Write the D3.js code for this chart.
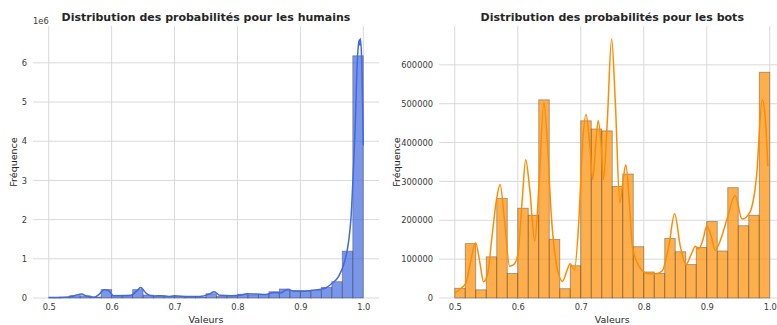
<!DOCTYPE html>
<html>
<head>
<meta charset="utf-8">
<script src="https://cdn.jsdelivr.net/npm/d3@7"></script>
<style>
  html, body { margin: 0; padding: 0; background: #fff; }
  svg { display: block; font-family: "DejaVu Sans", sans-serif; }
</style>
</head>
<body>
<svg id="chart" width="777" height="325"></svg>
<script>
// ---------- data ----------
const binStart = 0.5;
const binEnd = 1.0;
const binCount = 30;

const xTicks = [0.5, 0.6, 0.7, 0.8, 0.9, 1.0];

// Humans histogram counts (30 bins from 0.5 to 1.0)
const humanCounts = [15000, 25000, 60000, 55000, 25000, 215000, 70000, 75000, 215000, 75000,
                     45000, 42000, 42000, 28000, 28000, 110000, 45000, 45000, 95000, 80000,
                     92000, 160000, 230000, 187000, 187000, 204000, 272000, 416000, 1195000, 6180000];
const humanKdeX = [0.500, 0.520, 0.535, 0.545, 0.552, 0.560, 0.572, 0.580, 0.588, 0.595,
                   0.603, 0.615, 0.630, 0.640, 0.646, 0.655, 0.665, 0.680, 0.690, 0.700,
                   0.720, 0.740, 0.755, 0.763, 0.772, 0.790, 0.805, 0.815, 0.830, 0.845,
                   0.858, 0.868, 0.880, 0.888, 0.900, 0.915, 0.930, 0.9393, 0.950, 0.9604,
                   0.971, 0.9763, 0.9806, 0.9843, 0.987, 0.9897, 0.9922, 0.9938, 0.9946, 0.9954,
                   0.9976, 0.9990, 1.000];
const humanKdeY = [12000, 15000, 35000, 80000, 100000, 50000, 20000, 90000, 210000, 190000,
                   60000, 55000, 65000, 180000, 270000, 120000, 50000, 60000, 40000, 55000,
                   40000, 40000, 100000, 160000, 70000, 60000, 70000, 110000, 100000, 90000,
                   140000, 130000, 220000, 180000, 170000, 185000, 220000, 250000, 370000, 540000,
                   970000, 1400000, 2070000, 3270000, 4290000, 5730000, 6450000, 6580000, 6450000, 6620000,
                   5990000, 4900000, 3900000];
const humanYTicks = [0, 1e6, 2e6, 3e6, 4e6, 5e6, 6e6];

// Bots histogram counts
const botCounts = [25000, 140000, 21000, 106000, 256000, 63000, 231000, 213000, 510000, 151000,
                   24000, 83000, 456000, 435000, 430000, 287000, 319000, 132000, 67000, 63000,
                   153000, 119000, 86000, 130000, 197000, 121000, 284000, 186000, 213000, 581000];
const botKdeX = [0.500, 0.510, 0.518, 0.526, 0.533, 0.540, 0.5455, 0.552, 0.5586, 0.566,
                 0.572, 0.579, 0.587, 0.593, 0.600, 0.607, 0.6126, 0.619, 0.627, 0.634,
                 0.6414, 0.647, 0.653, 0.662, 0.671, 0.678, 0.683, 0.690, 0.697, 0.703,
                 0.7084, 0.714, 0.719, 0.724, 0.7277, 0.732, 0.736, 0.742, 0.749, 0.755,
                 0.762, 0.767, 0.7715, 0.777, 0.782, 0.7924, 0.8055, 0.818, 0.829, 0.8397,
                 0.849, 0.858, 0.867, 0.876, 0.882, 0.887, 0.894, 0.900, 0.907, 0.9135,
                 0.922, 0.932, 0.945, 0.956, 0.968, 0.979, 0.988, 0.993, 0.997];
const botKdeY = [13000, 25000, 40000, 100000, 142000, 90000, 42000, 60000, 150000, 250000,
                 292000, 200000, 82000, 85000, 110000, 250000, 356000, 280000, 146000, 300000,
                 504000, 400000, 219000, 82000, 43000, 70000, 88000, 73000, 200000, 400000,
                 472000, 400000, 305000, 400000, 457000, 400000, 305000, 450000, 667000, 500000,
                 245000, 300000, 343000, 250000, 133000, 82000, 63000, 62000, 69000, 133000,
                 217000, 133000, 86000, 115000, 133000, 126000, 150000, 185000, 160000, 123000,
                 150000, 202000, 264000, 203000, 219000, 313000, 510000, 460000, 339000];
const botYTicks = [0, 100000, 200000, 300000, 400000, 500000, 600000];

// ---------- drawing ----------
(function () {
const svg = d3.select("#chart");
const plotTop = 26, plotBottom = 298;

function panel(opt) {
  const g = svg.append("g");
  const x = d3.scaleLinear().domain([0.475, 1.025]).range([opt.left, opt.right]);
  const y = d3.scaleLinear().domain([0, opt.ymax]).range([plotBottom, plotTop]);

  // grid
  g.append("g").selectAll("line").data(xTicks).join("line")
    .attr("x1", d => x(d)).attr("x2", d => x(d))
    .attr("y1", plotTop).attr("y2", plotBottom)
    .attr("stroke", "#d9d9d9").attr("stroke-width", 1);
  g.append("g").selectAll("line").data(opt.yTicks).join("line")
    .attr("x1", opt.left).attr("x2", opt.right)
    .attr("y1", d => y(d)).attr("y2", d => y(d))
    .attr("stroke", "#d9d9d9").attr("stroke-width", 1);

  // axes (d3 axes, no domain line)
  const xAxis = d3.axisBottom(x).tickValues(xTicks).tickSize(0).tickPadding(6)
    .tickFormat(d3.format(".1f"));
  const xg = g.append("g").attr("transform", `translate(0,${plotBottom})`).call(xAxis);
  const yAxis = d3.axisLeft(y).tickValues(opt.yTicks).tickSize(0).tickPadding(6)
    .tickFormat(opt.fmt);
  const yg = g.append("g").attr("transform", `translate(${opt.left},0)`).call(yAxis);
  [xg, yg].forEach(a => {
    a.select(".domain").remove();
    a.selectAll("text").attr("font-family", "DejaVu Sans").attr("font-size", 8.3).attr("fill", "#3a3a3a");
  });

  // bars
  const bw = (binEnd - binStart) / binCount;
  g.append("g").selectAll("rect").data(opt.counts).join("rect")
    .attr("x", (d, i) => x(binStart + i * bw))
    .attr("width", (d, i) => x(binStart + (i + 1) * bw) - x(binStart + i * bw))
    .attr("y", d => y(d))
    .attr("height", d => plotBottom - y(d))
    .attr("fill", opt.color).attr("fill-opacity", 0.7)
    .attr("stroke", "#3c3c3c").attr("stroke-opacity", 0.45).attr("stroke-width", 0.9);

  // KDE line
  const pts = opt.kdeX.map((v, i) => [v, opt.kdeY[i]]);
  g.append("path").datum(pts)
    .attr("d", d3.line().x(d => x(d[0])).y(d => y(d[1])).curve(d3.curveMonotoneX))
    .attr("fill", "none").attr("stroke", opt.color).attr("stroke-width", 1.5);

  // title
  g.append("text").attr("x", (opt.left + opt.right) / 2).attr("y", 21)
    .attr("text-anchor", "middle").attr("font-weight", "bold").attr("font-size", 11)
    .attr("fill", "#262626").text(opt.title);
  // axis labels
  g.append("text").attr("x", x(0.75)).attr("y", 323)
    .attr("text-anchor", "middle").attr("font-size", 9.5).attr("fill", "#262626").text("Valeurs");
  g.append("text").attr("transform", `translate(${opt.ylabX},${(plotTop + plotBottom) / 2}) rotate(-90)`)
    .attr("text-anchor", "middle").attr("font-size", 9.5).attr("fill", "#262626").text("Fréquence");
  if (opt.offset) {
    g.append("text").attr("x", opt.left).attr("y", 24).attr("font-size", 8.3)
      .attr("fill", "#3a3a3a").text(opt.offset);
  }
}

panel({
  left: 33, right: 379, ymax: 6.94e6, yTicks: humanYTicks, counts: humanCounts,
  kdeX: humanKdeX, kdeY: humanKdeY, color: "#4169E1",
  fmt: d => d3.format("d")(d / 1e6), offset: "1e6",
  title: "Distribution des probabilités pour les humains", ylabX: 17
});
panel({
  left: 439, right: 785.5, ymax: 700000, yTicks: botYTicks, counts: botCounts,
  kdeX: botKdeX, kdeY: botKdeY, color: "#FF8C00",
  fmt: d => String(d), offset: null,
  title: "Distribution des probabilités pour les bots", ylabX: 400
});
})();
</script>
</body>
</html>
